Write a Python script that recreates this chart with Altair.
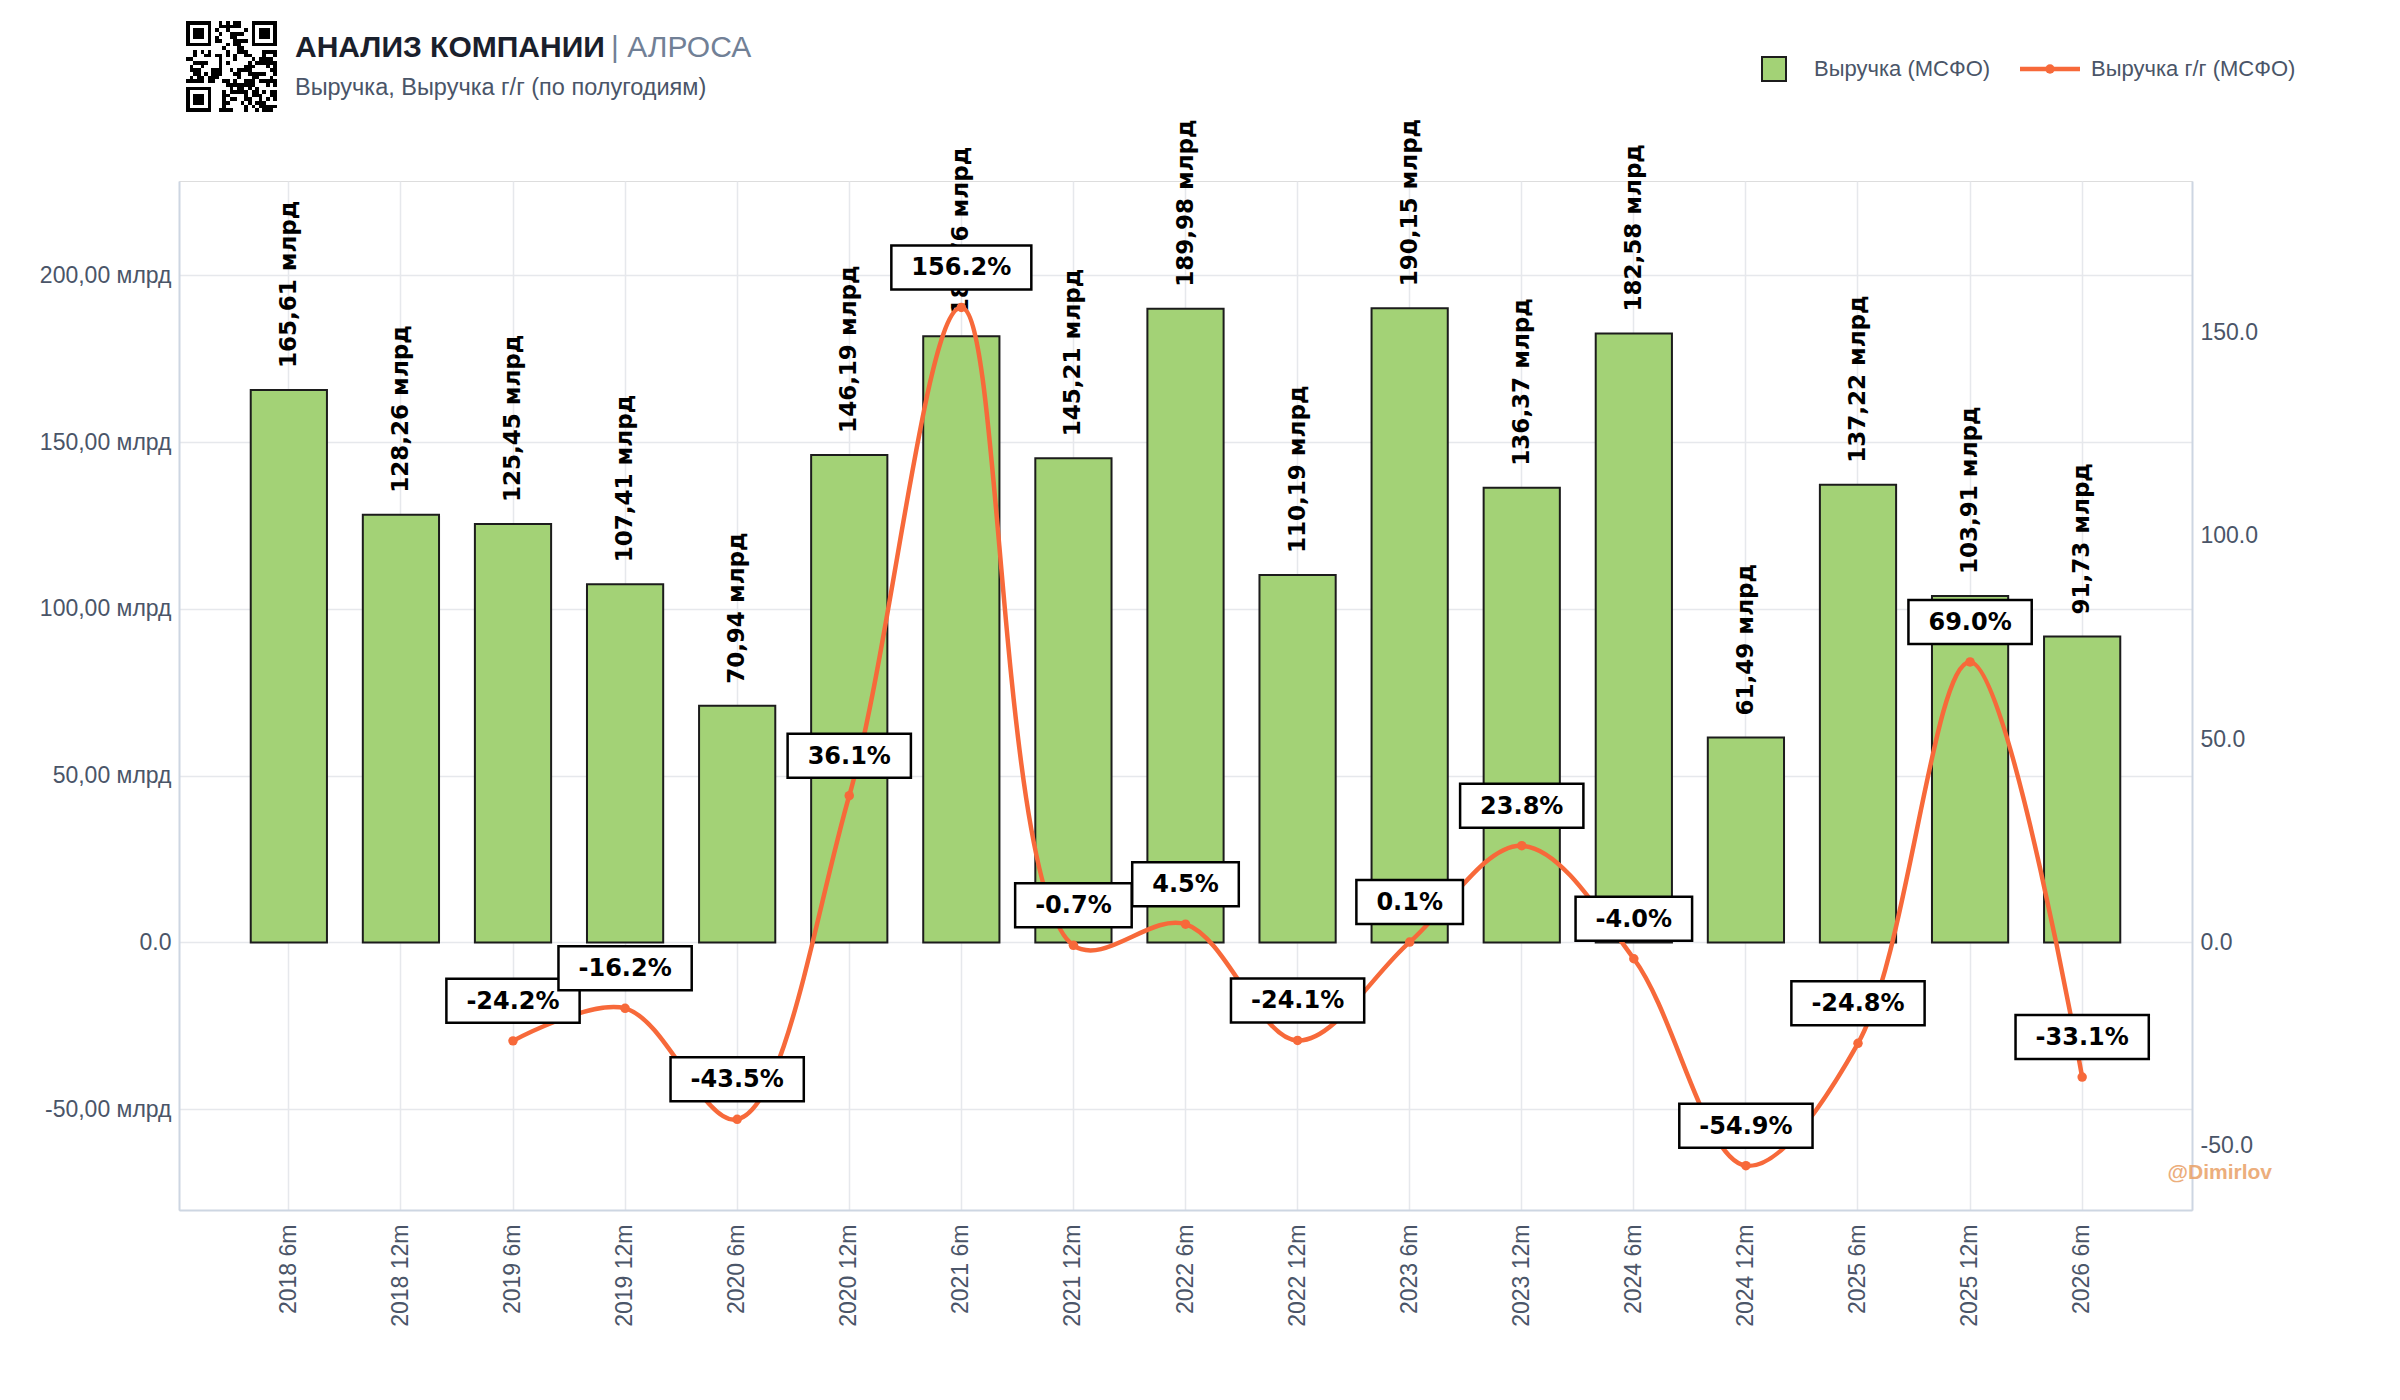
import altair as alt
import pandas as pd
import base64
import hashlib

# ---------------- data ----------------
periods = ["2018 6m", "2018 12m", "2019 6m", "2019 12m", "2020 6m", "2020 12m",
           "2021 6m", "2021 12m", "2022 6m", "2022 12m", "2023 6m", "2023 12m",
           "2024 6m", "2024 12m", "2025 6m", "2025 12m", "2026 6m"]
revenue = [165.61, 128.26, 125.45, 107.41, 70.94, 146.19, 181.76, 145.21, 189.98,
           110.19, 190.15, 136.37, 182.58, 61.49, 137.22, 103.91, 91.73]
yoy = [None, None, -24.2, -16.2, -43.5, 36.1, 156.2, -0.7, 4.5, -24.1, 0.1, 23.8,
       -4.0, -54.9, -24.8, 69.0, -33.1]

title_main = "АНАЛИЗ КОМПАНИИ"
title_company = "| АЛРОСА"
subtitle = "Выручка, Выручка г/г (по полугодиям)"
legend_bar = "Выручка (МСФО)"
legend_line = "Выручка г/г (МСФО)"
watermark = "@Dimirlov"

# ---------------- styling ----------------
W, H = 2013, 1029
GREEN = "#a3d276"
ORANGE = "#f7693a"
AXIS_TXT = "#4a5568"
GRID = "#e6e8ec"
DOMAIN = "#cdd6e2"
SANS = "Liberation Sans"
BOLD = "DejaVu Sans"
BOX_FS = 24

df = pd.DataFrame({"period": periods, "revenue": revenue, "yoy": yoy})
df["rev_label"] = [f"{v:.2f}".replace(".", ",") + " млрд" for v in revenue]

dl = df.dropna(subset=["yoy"]).copy()
dl["yoy_label"] = [f"{v:.1f}%" for v in dl["yoy"]]

# box size from label text width (DejaVu Sans Bold metrics)
cw = {"-": 0.415, ".": 0.38, "%": 1.002}
def text_w(s, fs=BOX_FS):
    return sum(cw.get(c, 0.696) for c in s) * fs

BOX_H = 44
def box_w(s):
    return text_w(s) + 40

def box_path(s):
    r = BOX_H / box_w(s)
    return f"M-1,{-r:.4f}L1,{-r:.4f}L1,{r:.4f}L-1,{r:.4f}Z"

dl["box_shape"] = [box_path(s) for s in dl["yoy_label"]]
dl["box_size"] = [box_w(s) ** 2 for s in dl["yoy_label"]]

x_enc = alt.X("period:O", sort=periods,
              scale=alt.Scale(paddingInner=0.32, paddingOuter=0.64),
              axis=alt.Axis(title=None, labelAngle=270, labelFontSize=23,
                            labelFont=SANS, labelColor=AXIS_TXT, ticks=False,
                            labelPadding=14, grid=True, gridColor=GRID,
                            gridWidth=1.5, domainColor=DOMAIN, domainWidth=2))

left_scale = alt.Scale(domain=[-80.2, 228.3], nice=False, zero=False)
right_scale = alt.Scale(domain=[-65.8, 187.3], nice=False, zero=False)

left_axis = alt.Axis(title=None, values=[-50, 0, 50, 100, 150, 200],
                     labelExpr="datum.value == 0 ? '0.0' : replace(replace(format(datum.value, '.2f'), '.', ','), '\u2212', '-') + ' млрд'",
                     labelFontSize=23, labelFont=SANS, labelColor=AXIS_TXT,
                     ticks=False, labelPadding=8, grid=True, gridColor=GRID,
                     gridWidth=1.5, domainColor=DOMAIN, domainWidth=2,
                     orient="left")
right_axis = alt.Axis(title=None, values=[-50, 0, 50, 100, 150],
                      labelExpr="replace(format(datum.value, '.1f'), '\u2212', '-')",
                      labelFontSize=23, labelFont=SANS, labelColor=AXIS_TXT,
                      ticks=False, labelPadding=8, grid=False,
                      domainColor=DOMAIN, domainWidth=2, orient="right")

base = alt.Chart(df)

bars = base.mark_bar(color=GREEN, stroke="#1c1c1c", strokeWidth=2).encode(
    x=x_enc,
    y=alt.Y("revenue:Q", scale=left_scale, axis=left_axis),
)

bar_labels = base.mark_text(angle=270, align="left", baseline="middle", dx=22,
                            font=BOLD, fontWeight="bold", fontSize=23,
                            color="#000000").encode(
    x=x_enc,
    y=alt.Y("revenue:Q", scale=left_scale, axis=left_axis),
    text="rev_label:N",
)

left_group = alt.layer(bars, bar_labels)

lbase = alt.Chart(dl)
y_right = alt.Y("yoy:Q", scale=right_scale, axis=right_axis)
line = lbase.mark_line(interpolate="catmull-rom", color=ORANGE, strokeWidth=4.5).encode(
    x=x_enc, y=y_right)
pts = lbase.mark_point(filled=True, color=ORANGE, size=90, opacity=1).encode(
    x=x_enc, y=y_right)
boxes = lbase.mark_point(filled=True, fill="white", stroke="black", strokeWidth=2.5,
                         opacity=1, yOffset=-40).encode(
    x=x_enc, y=y_right,
    shape=alt.Shape("box_shape:N", scale=None),
    size=alt.Size("box_size:Q", scale=None),
)
box_text = lbase.mark_text(font=BOLD, fontWeight="bold", fontSize=BOX_FS, color="black",
                           baseline="middle", align="center", yOffset=-39).encode(
    x=x_enc, y=y_right,
    text="yoy_label:N",
)

right_group = alt.layer(line, pts, boxes, box_text)

# ---------------- decorations ----------------
one = pd.DataFrame({"t": [""]})

def deco_text(txt, x, y, **kw):
    return alt.Chart(pd.DataFrame({"t": [txt]})).mark_text(**kw).encode(
        x=alt.value(x), y=alt.value(y), text="t:N")

# QR-like decorative image
n = 25
def finder(i, j, oi, oj):
    a, b = i - oi, j - oj
    if 0 <= a < 7 and 0 <= b < 7:
        if a in (0, 6) or b in (0, 6):
            return 1
        if 2 <= a <= 4 and 2 <= b <= 4:
            return 1
        return 0
    return None

rects = []
for i in range(n):
    for j in range(n):
        v = None
        for oi, oj in ((0, 0), (0, n - 7), (n - 7, 0)):
            f = finder(i, j, oi, oj)
            if f is not None:
                v = f
        if v is None:
            if (i < 8 and j < 8) or (i < 8 and j >= n - 8) or (i >= n - 8 and j < 8):
                v = 0
            else:
                v = hashlib.md5(f"{i}-{j}".encode()).digest()[0] % 2
        if v:
            rects.append(f'<rect x="{j}" y="{i}" width="1" height="1"/>')
svg = (f'<svg xmlns="http://www.w3.org/2000/svg" viewBox="0 0 {n} {n}" '
       f'shape-rendering="crispEdges"><rect width="{n}" height="{n}" fill="white"/>'
       f'<g fill="black">{"".join(rects)}</g></svg>')
qr_uri = "data:image/svg+xml;base64," + base64.b64encode(svg.encode()).decode()

qr = alt.Chart(one).mark_image(width=91, height=91, align="left", baseline="top").encode(
    x=alt.value(7), y=alt.value(-160), url=alt.value(qr_uri))

t1 = deco_text(title_main, 116, -124, align="left", baseline="alphabetic",
               font=SANS, fontWeight="bold", fontSize=30, color="#1a202c")
t2 = deco_text(title_company, 432, -124, align="left", baseline="alphabetic",
               font=SANS, fontSize=30, color="#718096")
t3 = deco_text(subtitle, 116, -86, align="left", baseline="alphabetic",
               font=SANS, fontSize=23.5, color="#4a5568")

leg_sq = alt.Chart(one).mark_point(shape="square", filled=True, fill=GREEN,
                                   stroke="#1c1c1c", strokeWidth=2, size=576,
                                   opacity=1).encode(x=alt.value(1595), y=alt.value(-112))
leg_t1 = deco_text(legend_bar, 1635, -112, align="left", baseline="middle",
                   font=SANS, fontSize=22, color=AXIS_TXT)
leg_rule = alt.Chart(one).mark_rule(color=ORANGE, strokeWidth=4.5).encode(
    x=alt.value(1841), x2=alt.value(1901), y=alt.value(-112))
leg_dot = alt.Chart(one).mark_point(filled=True, color=ORANGE, size=90, opacity=1).encode(
    x=alt.value(1871), y=alt.value(-112))
leg_t2 = deco_text(legend_line, 1912, -112, align="left", baseline="middle",
                   font=SANS, fontSize=22, color=AXIS_TXT)

wm = deco_text(watermark, 2093, 992, align="right", baseline="middle", font=SANS,
               fontWeight="bold", fontSize=21, color="#e9a066", opacity=0.85)

chart = alt.layer(
    left_group, right_group, qr, t1, t2, t3,
    leg_sq, leg_t1, leg_rule, leg_dot, leg_t2, wm
).resolve_scale(y="independent").properties(
    width=W, height=H,
    autosize=alt.AutoSizeParams(type="none"),
    padding={"left": 171, "top": 173, "right": 200, "bottom": 180},
).configure_view(strokeWidth=0, stroke="transparent").configure(background="white")

chart.save("out.html", embed_options={"renderer": "svg", "actions": False})
